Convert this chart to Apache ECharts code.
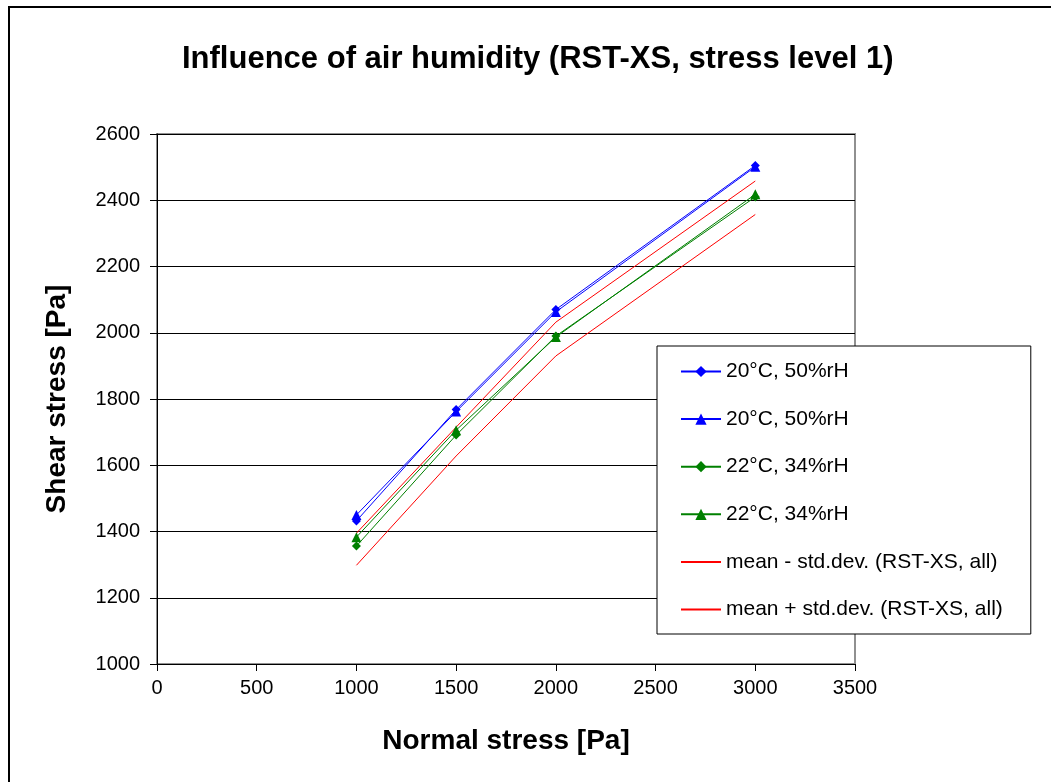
<!DOCTYPE html>
<html>
<head>
<meta charset="utf-8">
<script src="https://cdn.jsdelivr.net/npm/echarts@6/dist/echarts.min.js"></script>
<style>
html, body { margin: 0; padding: 0; background: #fff; }
#chart { width: 1051px; height: 782px; }
</style>
</head>
<body>
<div id="chart"></div>
<script>
// normal stress [Pa]
const normalStress = [1000, 1500, 2000, 3000];
// shear stress [Pa]
const blueDiamond = [1432, 1768, 2070, 2505];
const blueTriangle = [1450, 1762, 2063, 2501];
const greenDiamond = [1356, 1691, 1990, 2410];
const greenTriangle = [1383, 1706, 1987, 2418];
const meanMinusStd = [1298, 1628, 1930, 2357];
const meanPlusStd = [1395, 1715, 2032, 2458];
const seriesNames = [
  '20°C, 50%rH',
  '20°C, 50%rH ',
  '22°C, 34%rH',
  '22°C, 34%rH ',
  'mean - std.dev. (RST-XS, all)',
  'mean + std.dev. (RST-XS, all)',
];

const pairs = ys => normalStress.map((x, i) => [x, ys[i]]);

const myChart = echarts.init(document.getElementById('chart'));

function lineSeries(name, ys, color, symbol) {
  return {
    name: name,
    type: 'line',
    data: pairs(ys),
    symbol: symbol || 'none',
    showSymbol: !!symbol,
    symbolSize: symbol === 'triangle' ? 10 : 9,
    lineStyle: { color: color, width: 1 },
    itemStyle: { color: color },
    emphasis: { disabled: true },
    z: 3,
  };
}

const font = 'Liberation Sans, Arial';

const option = {
  backgroundColor: '#fff',
  animation: false,
  title: {
    text: 'Influence of air humidity (RST-XS, stress level 1)',
    left: 177,
    top: 39,
    textStyle: {
      fontFamily: font,
      fontSize: 31,
      fontWeight: 'bold',
      color: '#000',
    },
  },
  graphic: [{
    type: 'rect',
    shape: { x: 9, y: 7, width: 1100, height: 900 },
    style: { fill: 'none', stroke: '#000', lineWidth: 2 },
    silent: true,
  }],
  grid: {
    left: 157,
    top: 134,
    width: 698,
    height: 530,
    show: true,
    borderColor: '#909090',
    borderWidth: 2,
    backgroundColor: '#fff',
  },
  legend: {
    orient: 'vertical',
    left: 657,
    top: 346,
    padding: [15, 28, 14, 23],
    itemWidth: 40,
    itemHeight: 14,
    itemGap: 26.6,
    backgroundColor: '#fff',
    borderColor: '#000',
    borderWidth: 1,
    textStyle: {
      fontFamily: font,
      fontSize: 21,
      lineHeight: 20,
      color: '#000',
    },
    data: seriesNames.map((n, i) => (i >= 4 ? { name: n, itemStyle: { opacity: 0 } } : n)),
  },
  xAxis: {
    type: 'value',
    min: 0,
    max: 3500,
    interval: 500,
    name: 'Normal stress [Pa]',
    nameLocation: 'middle',
    nameGap: 63,
    nameTextStyle: {
      fontFamily: font,
      fontSize: 28,
      fontWeight: 'bold',
      color: '#000',
    },
    axisLine: { lineStyle: { color: '#000', width: 1 } },
    axisTick: { show: true, inside: false, length: 7, lineStyle: { color: '#000' } },
    axisLabel: {
      margin: 14,
      fontFamily: font,
      fontSize: 20,
      color: '#000',
      formatter: v => String(v),
    },
    splitLine: { show: false },
  },
  yAxis: {
    type: 'value',
    min: 1000,
    max: 2600,
    interval: 200,
    name: 'Shear stress [Pa]',
    nameLocation: 'middle',
    nameGap: 86,
    nameTextStyle: {
      fontFamily: font,
      fontSize: 28,
      fontWeight: 'bold',
      color: '#000',
    },
    axisLine: { show: true, lineStyle: { color: '#000', width: 1 } },
    axisTick: { show: true, inside: false, length: 7, lineStyle: { color: '#000' } },
    axisLabel: {
      margin: 17,
      fontFamily: font,
      fontSize: 20,
      color: '#000',
      formatter: v => String(v),
    },
    splitLine: { show: true, lineStyle: { color: '#000', width: 1 } },
  },
  series: [
    lineSeries(seriesNames[0], blueDiamond, '#0000ff', 'diamond'),
    lineSeries(seriesNames[1], blueTriangle, '#0000ff', 'triangle'),
    lineSeries(seriesNames[2], greenDiamond, '#008000', 'diamond'),
    lineSeries(seriesNames[3], greenTriangle, '#008000', 'triangle'),
    lineSeries(seriesNames[4], meanMinusStd, '#ff0000'),
    lineSeries(seriesNames[5], meanPlusStd, '#ff0000'),
  ],
};

myChart.setOption(option);
</script>
</body>
</html>
